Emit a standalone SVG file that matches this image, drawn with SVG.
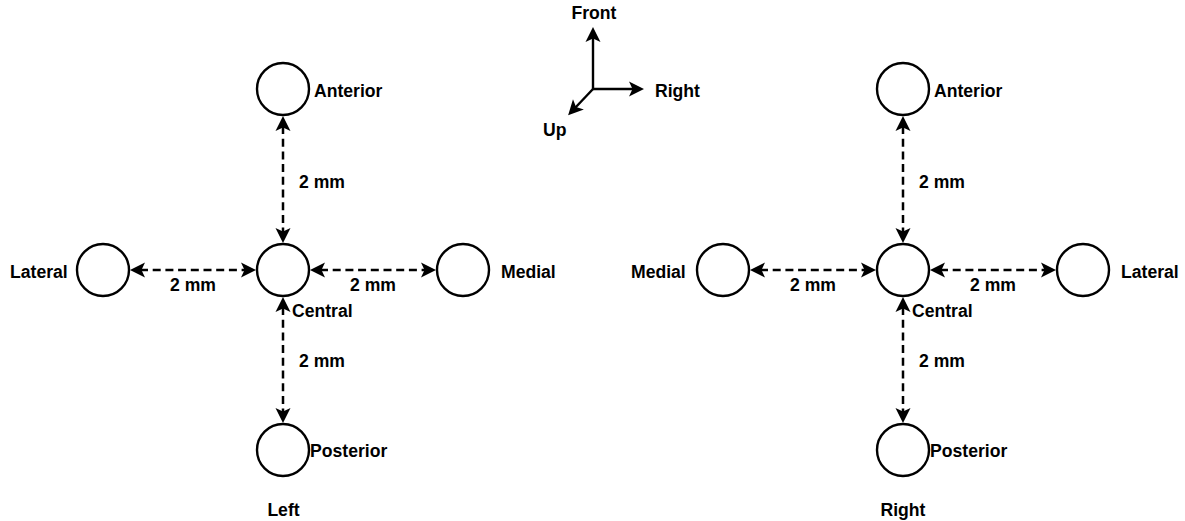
<svg xmlns="http://www.w3.org/2000/svg" width="1185" height="521" viewBox="0 0 1185 521">
<style>
.c{fill:#fff;stroke:#000;stroke-width:2.4}
.t{font-family:"Liberation Sans",Arial,sans-serif;font-weight:bold;font-size:17.6px;fill:#000}
.m{text-anchor:middle}
.d{fill:none;stroke:#000;stroke-width:2.5;stroke-dasharray:8 4.7;marker-start:url(#ah);marker-end:url(#ah)}
.s{fill:none;stroke:#000;stroke-width:2.4;marker-end:url(#ah)}
</style>
<defs>
<marker id="ah" markerUnits="userSpaceOnUse" markerWidth="16" markerHeight="16" refX="5" refY="7.5" orient="auto-start-reverse" overflow="visible">
<path d="M15,7.5 L0,0 L3.5,7.5 L0,15 Z" fill="#000"/>
</marker>
</defs>
<g id="connectors">
<line class="d" x1="283" y1="126" x2="283" y2="233"/>
<line class="d" x1="283" y1="307" x2="283" y2="413"/>
<line class="d" x1="140" y1="270" x2="246" y2="270"/>
<line class="d" x1="320" y1="270" x2="426" y2="270"/>
<line class="d" x1="903" y1="126" x2="903" y2="233"/>
<line class="d" x1="903" y1="307" x2="903" y2="413"/>
<line class="d" x1="760" y1="270" x2="866" y2="270"/>
<line class="d" x1="940" y1="270" x2="1046" y2="270"/>
<line class="s" x1="593" y1="89" x2="593" y2="37"/>
<line class="s" x1="593" y1="89" x2="634" y2="89"/>
<line class="s" x1="593" y1="89" x2="575" y2="108"/>
</g>
<g id="left-anterior"><circle class="c" cx="283" cy="89" r="26"/><text class="t" x="314" y="97">Anterior</text></g>
<g id="left-central"><circle class="c" cx="283" cy="270" r="26"/><text class="t" x="292" y="317">Central</text></g>
<g id="left-lateral"><circle class="c" cx="103" cy="270" r="26"/><text class="t" x="10" y="278">Lateral</text></g>
<g id="left-medial"><circle class="c" cx="463" cy="270" r="26"/><text class="t" x="501" y="278">Medial</text></g>
<g id="left-posterior"><circle class="c" cx="283" cy="450" r="26"/><text class="t" x="310" y="457">Posterior</text></g>
<g id="right-anterior"><circle class="c" cx="903" cy="89" r="26"/><text class="t" x="934" y="97">Anterior</text></g>
<g id="right-central"><circle class="c" cx="903" cy="270" r="26"/><text class="t" x="912" y="317">Central</text></g>
<g id="right-medial"><circle class="c" cx="723" cy="270" r="26"/><text class="t" x="631" y="278">Medial</text></g>
<g id="right-lateral"><circle class="c" cx="1083" cy="270" r="26"/><text class="t" x="1121" y="278">Lateral</text></g>
<g id="right-posterior"><circle class="c" cx="903" cy="450" r="26"/><text class="t" x="930" y="457">Posterior</text></g>
<g id="labels">
<text class="t" x="299" y="188">2 mm</text>
<text class="t" x="299" y="367">2 mm</text>
<text class="t m" x="193" y="291">2 mm</text>
<text class="t m" x="373" y="291">2 mm</text>
<text class="t" x="919" y="188">2 mm</text>
<text class="t" x="919" y="367">2 mm</text>
<text class="t m" x="813" y="291">2 mm</text>
<text class="t m" x="993" y="291">2 mm</text>
<text class="t m" x="283.5" y="516">Left</text>
<text class="t m" x="903" y="516">Right</text>
<text class="t m" x="594" y="19">Front</text>
<text class="t" x="655" y="97">Right</text>
<text class="t" x="543" y="136">Up</text>
</g>
</svg>
